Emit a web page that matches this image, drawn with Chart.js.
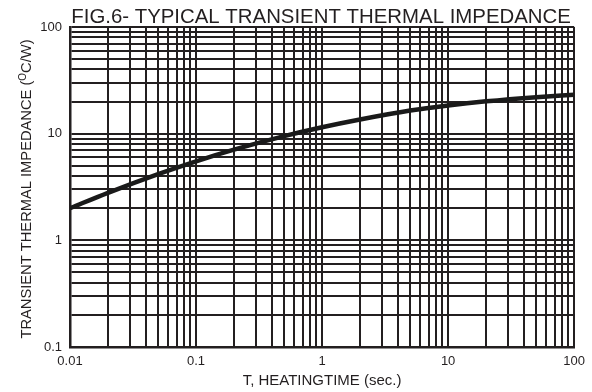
<!DOCTYPE html>
<html>
<head>
<meta charset="utf-8">
<script src="https://cdn.jsdelivr.net/npm/chart.js@4"></script>
<style>
html,body{margin:0;padding:0;background:#fff}
#wrap{width:592px;height:392px}
</style>
</head>
<body>
<div id="wrap"><canvas id="myChart"></canvas></div>
<script>
// valores (tempo em s, impedancia em oC/W)
const tempo = [0.01, 0.02, 0.05, 0.1, 0.2, 0.5, 1, 2, 5, 10, 20, 50, 100]
const impedancia = [2.0, 2.79, 4.18, 5.51, 7.08, 9.49, 11.5, 13.6, 16.5, 18.4, 20.1, 22.0, 23.2]
const decadasX = [0.01, 0.1, 1, 10, 100]
const decadasY = [0.1, 1, 10, 100]
const rotulosX = ['0.01', '0.1', '1', '10', '100']
const rotulosY = ['0.1', '1', '10', '100']
const titulo = 'FIG.6- TYPICAL TRANSIENT THERMAL IMPEDANCE'
const tituloX = 'T, HEATINGTIME (sec.)'

const cor = '#231f20'
const fonte = '"Liberation Sans", Arial, sans-serif'

// linhas de grade 1..9 em cada decada
const grade = (decadas) => {
    const v = []
    for (let i = 0; i < decadas.length - 1; i++) {
        for (let k = 1; k < 10; k++) v.push(+(decadas[i] * k).toPrecision(3))
    }
    v.push(decadas[decadas.length - 1])
    return v
}
const rotulo = (decadas, rotulos) => (value) => {
    const i = decadas.findIndex(d => Math.abs(d - value) / d < 1e-6)
    return i >= 0 ? rotulos[i] : ''
}

const titulos = {
    id: 'titulos',
    afterDraw(chart) {
        const c = chart.ctx
        const a = chart.chartArea
        const meio = (a.left + a.right) / 2
        c.save()
        c.fillStyle = cor
        c.textAlign = 'center'
        c.textBaseline = 'alphabetic'
        c.font = '20.4px ' + fonte
        c.fillText(titulo, meio - 1, 23)
        c.font = '15px ' + fonte
        c.textBaseline = 'middle'
        c.fillText(tituloX, meio, 381)
        // titulo do eixo y com o "O" sobrescrito
        c.translate(27, 189)
        c.rotate(-Math.PI / 2)
        c.textAlign = 'left'
        const p1 = 'TRANSIENT THERMAL IMPEDANCE ('
        const p2 = 'O'
        const p3 = 'C/W)'
        c.font = '14.7px ' + fonte
        const w1 = c.measureText(p1).width
        const w3 = c.measureText(p3).width
        c.font = '10px ' + fonte
        const w2 = c.measureText(p2).width
        let x = -(w1 + w2 + w3) / 2
        c.font = '14.7px ' + fonte
        c.fillText(p1, x, 0)
        x += w1
        c.font = '10px ' + fonte
        c.fillText(p2, x, -4)
        x += w2
        c.font = '14.7px ' + fonte
        c.fillText(p3, x, 0)
        c.restore()
    }
}

const ctx = document.getElementById('myChart')
let grafico = new Chart(ctx, {
    type: 'line',
    data: {
        datasets: [{
            data: tempo.map((t, i) => ({x: t, y: impedancia[i]})),
            borderColor: '#1a1a1a',
            borderWidth: 4.5,
            pointRadius: 0,
            cubicInterpolationMode: 'monotone',
            fill: false
        }]
    },
    options: {
        responsive: true,
        maintainAspectRatio: false,
        animation: false,
        layout: {padding: {left: 0, right: 17, top: 27, bottom: 0}},
        plugins: {legend: {display: false}, tooltip: {enabled: false}},
        scales: {
            x: {
                type: 'logarithmic',
                min: 0.01,
                max: 100,
                afterBuildTicks: (s) => { s.ticks = grade(decadasX).map(v => ({value: v})) },
                afterFit: (s) => { s.height = 45 },
                grid: {color: cor, lineWidth: 2, drawTicks: false},
                border: {color: cor, width: 2.5},
                ticks: {
                    autoSkip: false,
                    maxRotation: 0,
                    padding: 7,
                    color: cor,
                    font: {family: fonte, size: 13},
                    callback: rotulo(decadasX, rotulosX)
                }
            },
            y: {
                type: 'logarithmic',
                min: 0.1,
                max: 100,
                afterBuildTicks: (s) => { s.ticks = grade(decadasY).map(v => ({value: v})) },
                afterFit: (s) => { s.width = 70 },
                grid: {color: cor, lineWidth: 2, drawTicks: false},
                border: {color: cor, width: 2.5},
                ticks: {
                    autoSkip: false,
                    padding: 8,
                    color: cor,
                    font: {family: fonte, size: 13},
                    callback: rotulo(decadasY, rotulosY)
                }
            }
        }
    },
    plugins: [titulos]
})
</script>
</body>
</html>
